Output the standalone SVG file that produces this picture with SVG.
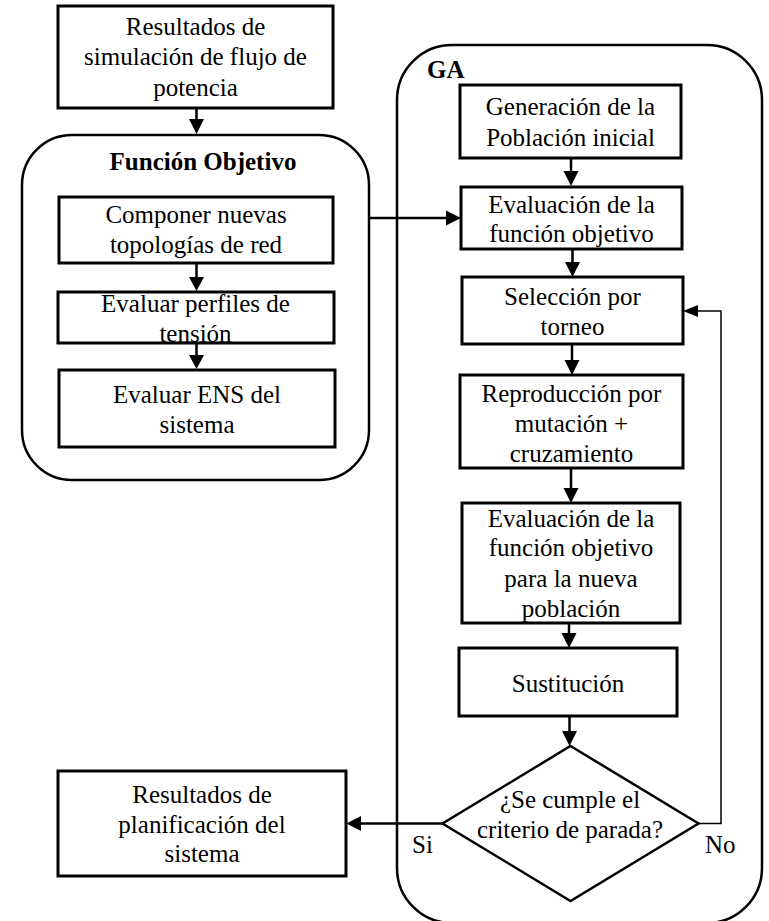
<svg xmlns="http://www.w3.org/2000/svg" width="769" height="921" viewBox="0 0 769 921" font-family="Liberation Serif, serif" font-size="25">
<defs>
<style>
.box{fill:#fff;stroke:#000;stroke-width:3}
.grp{fill:none;stroke:#000;stroke-width:2.5}
.dia{fill:#fff;stroke:#000;stroke-width:2.5}
.ln{fill:none;stroke:#000;stroke-width:2.5}
.thin{fill:none;stroke:#000;stroke-width:1.5}
.hd{fill:#000;stroke:none}
.c{text-anchor:middle}
.b{font-weight:bold}
</style>
</defs>
<rect width="769" height="921" fill="#fff"/>
<g id="fo-group">
<rect class="grp" x="22" y="135" width="347" height="345" rx="50" ry="50"/>
<text class="c b" x="203" y="170">Función Objetivo</text>
</g>
<g id="ga-group">
<rect class="grp" x="397" y="45" width="365" height="878" rx="55" ry="55"/>
<text class="b" x="427" y="78">GA</text>
</g>
<g id="connectors">
<line class="ln" x1="196.5" y1="108" x2="196.5" y2="121"/>
<polygon class="hd" points="189,119 204,119 196.5,134"/>
<line class="ln" x1="196.5" y1="263" x2="196.5" y2="278"/>
<polygon class="hd" points="189,277 204,277 196.5,291"/>
<line class="ln" x1="196.5" y1="343" x2="196.5" y2="356"/>
<polygon class="hd" points="189,355 204,355 196.5,369"/>
<line class="ln" x1="369" y1="218" x2="448" y2="218"/>
<polygon class="hd" points="446,210.5 446,225.5 461,218"/>
<line class="ln" x1="571" y1="158" x2="571" y2="172"/>
<polygon class="hd" points="563.5,171 578.5,171 571,186"/>
<line class="ln" x1="572.5" y1="249" x2="572.5" y2="263"/>
<polygon class="hd" points="565,262 580,262 572.5,277"/>
<line class="ln" x1="572" y1="344" x2="572" y2="361"/>
<polygon class="hd" points="564.5,360 579.5,360 572,375"/>
<line class="ln" x1="571" y1="468" x2="571" y2="489"/>
<polygon class="hd" points="563.5,488 578.5,488 571,503"/>
<line class="ln" x1="569" y1="623" x2="569" y2="634"/>
<polygon class="hd" points="561.5,633 576.5,633 569,648"/>
<line class="ln" x1="569.5" y1="716" x2="569.5" y2="733"/>
<polygon class="hd" points="562,731 577,731 569.5,746"/>
<polyline class="thin" points="698.5,823.5 721,823.5 721,311 696,311"/>
<polygon class="hd" points="698,305 698,317 683,311"/>
<line class="ln" x1="442.5" y1="823.5" x2="359" y2="823.5"/>
<polygon class="hd" points="361,816 361,831 346.5,823.5"/>
</g>
<g id="n-flujo">
<rect class="box" x="58" y="6" width="275" height="102"/>
<text class="c" x="195.5" y="35">Resultados de</text>
<text class="c" x="195.5" y="65">simulación de flujo de</text>
<text class="c" x="195.5" y="96">potencia</text>
</g>
<g id="n-componer">
<rect class="box" x="59" y="197" width="274" height="66"/>
<text class="c" x="196" y="223">Componer nuevas</text>
<text class="c" x="196" y="253">topologías de red</text>
</g>
<g id="n-perfiles">
<rect class="box" x="58" y="292" width="276" height="51"/>
<text class="c" x="195.5" y="312">Evaluar perfiles de</text>
<text class="c" x="195.5" y="342">tensión</text>
</g>
<g id="n-ens">
<rect class="box" x="59" y="370" width="276" height="77"/>
<text class="c" x="197" y="403">Evaluar ENS del</text>
<text class="c" x="197" y="433">sistema</text>
</g>
<g id="n-generacion">
<rect class="box" x="460" y="85" width="221" height="73"/>
<text class="c" x="570.5" y="115">Generación de la</text>
<text class="c" x="570.5" y="146">Población inicial</text>
</g>
<g id="n-evaluacion1">
<rect class="box" x="461" y="187" width="221" height="62"/>
<text class="c" x="571.5" y="213">Evaluación de la</text>
<text class="c" x="571.5" y="242">función objetivo</text>
</g>
<g id="n-seleccion">
<rect class="box" x="462" y="277" width="221" height="67"/>
<text class="c" x="572.5" y="305">Selección por</text>
<text class="c" x="572.5" y="335">torneo</text>
</g>
<g id="n-reproduccion">
<rect class="box" x="460" y="375" width="223" height="93"/>
<text class="c" x="571.5" y="402">Reproducción por</text>
<text class="c" x="571.5" y="432">mutación +</text>
<text class="c" x="571.5" y="462">cruzamiento</text>
</g>
<g id="n-evaluacion2">
<rect class="box" x="462" y="503" width="218" height="120"/>
<text class="c" x="571" y="527">Evaluación de la</text>
<text class="c" x="571" y="556">función objetivo</text>
<text class="c" x="571" y="587">para la nueva</text>
<text class="c" x="571" y="617">población</text>
</g>
<g id="n-sustitucion">
<rect class="box" x="459" y="648" width="218" height="68"/>
<text class="c" x="568" y="692">Sustitución</text>
</g>
<g id="n-criterio">
<polygon class="dia" points="570.5,746 698.5,823.5 570.5,901 442.5,823.5"/>
<text class="c" x="570" y="808">¿Se cumple el</text>
<text class="c" x="570" y="838">criterio de parada?</text>
</g>
<g id="labels">
<text x="412" y="853">Si</text>
<text x="705" y="853">No</text>
</g>
<g id="n-planificacion">
<rect class="box" x="58" y="771" width="288" height="105"/>
<text class="c" x="202" y="803">Resultados de</text>
<text class="c" x="202" y="833">planificación del</text>
<text class="c" x="202" y="862">sistema</text>
</g>
</svg>
